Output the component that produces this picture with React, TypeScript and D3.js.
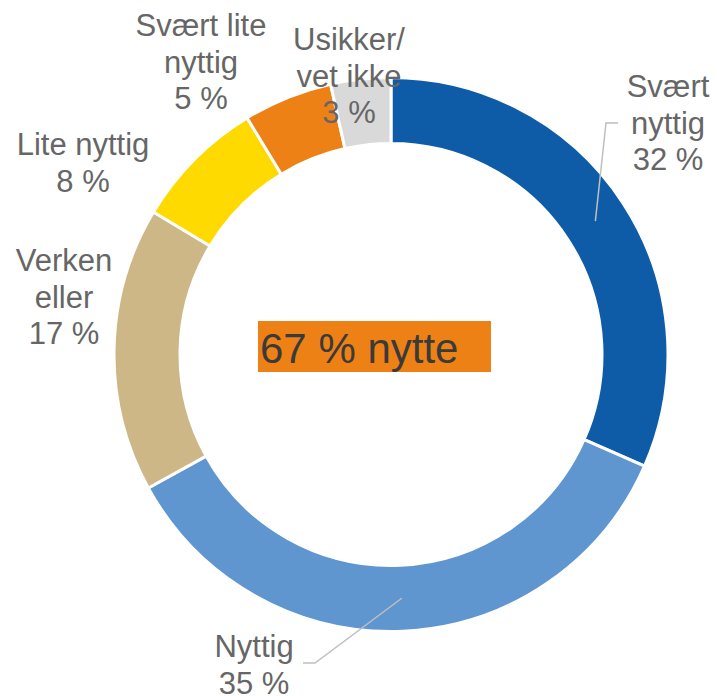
import React from "react";
import * as d3 from "d3";

const categories = ["Svært nyttig", "Nyttig", "Verken eller", "Lite nyttig", "Svært lite nyttig", "Usikker/ vet ikke"];
const values = [31.6, 35.4, 16.6, 7.7, 5.2, 3.5];
const colors = ["#0E5CA8", "#5F96D0", "#CEB787", "#FFDA00", "#EE8116", "#D9D9D9"];
const labelLines = [
  ["Svært", "nyttig", "32 %"],
  ["Nyttig", "35 %"],
  ["Verken", "eller", "17 %"],
  ["Lite nyttig", "8 %"],
  ["Svært lite", "nyttig", "5 %"],
  ["Usikker/", "vet ikke", "3 %"],
];
const centerText = "67 % nytte";

// layout (label anchor: center x, first baseline y) in page coordinates
const W = 717, H = 696;
const cx = 391, cy = 354.5;
const outerR = 277, innerR = 211;
const labelLayout = [
  { x: 668, y: 97, leader: [[606, 123], [618, 123]] },
  { x: 254, y: 657, leader: [[315, 663], [303, 663]] },
  { x: 64, y: 271 },
  { x: 83, y: 155 },
  { x: 201, y: 36 },
  { x: 349, y: 50 },
];
const lineH = 36.6;
const font = "'Liberation Sans', Arial, sans-serif";

export default function App() {
  const data = categories.map((c, i) => ({ c, v: values[i], i }));
  const pie = d3.pie<any>().value((d) => d.v).sort(null).startAngle(0).endAngle(2 * Math.PI);
  const arcs = pie(data);
  const arc = d3.arc<any>().innerRadius(innerR).outerRadius(outerR);
  const midArc = d3.arc<any>().innerRadius(244).outerRadius(244);

  return (
    <svg width={W} height={H} style={{ position: "absolute", left: 0, top: 0, background: "#fff" }}>
      <g transform={`translate(${cx},${cy})`}>
        {arcs.map((a, i) => (
          <path key={i} d={arc(a) as string} fill={colors[i]} stroke="#fff" strokeWidth={3} />
        ))}
      </g>
      {arcs.map((a, i) => {
        const L = labelLayout[i];
        if (!L.leader) return null;
        const [mx, my] = midArc.centroid(a);
        const pts = [[cx + mx, cy + my], ...L.leader];
        return (
          <path key={"l" + i} d={d3.line()(pts as any) as string} fill="none" stroke="#BFBFBF" strokeWidth={1.5} />
        );
      })}
      {labelLines.map((lines, i) => (
        <text key={"t" + i} textAnchor="middle" fontFamily={font} fontSize={31} fill="#666666">
          {lines.map((s, j) => (
            <tspan key={j} x={labelLayout[i].x} y={labelLayout[i].y + j * lineH}>{s}</tspan>
          ))}
        </text>
      ))}
      <rect x={cx - 133} y={cy - 33.5} width={233} height={51} fill="#EE8116" />
      <text x={cx - 131} y={cy + 8.5} fontFamily={font} fontSize={42} fill="#3A3A3A">{centerText}</text>
    </svg>
  );
}
